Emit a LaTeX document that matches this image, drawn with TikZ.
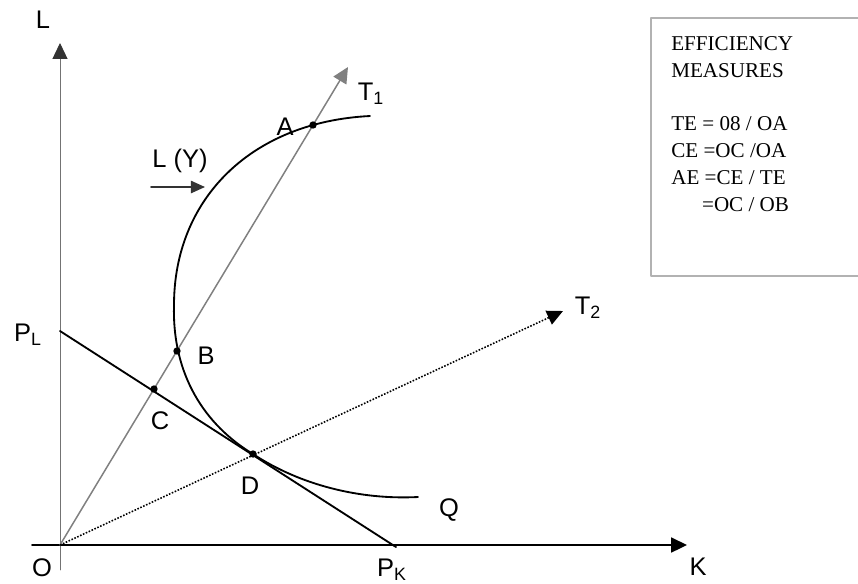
\documentclass[tikz,border=0pt]{standalone}
\usepackage{fontspec}
\setmainfont{Liberation Sans}
\newfontfamily\boxfont{Liberation Serif}
\usetikzlibrary{arrows.meta}

\begin{document}
\begin{tikzpicture}[
  x=0.02cm,
  y=-0.02cm,
  line cap=round,
  line join=round,
  lbl/.style={
    font=\fontsize{14.5}{17}\selectfont,
    inner sep=0pt
  },
  dot/.style={
    circle,
    fill=black,
    inner sep=0pt,
    minimum size=4.2pt
  },
  axisarrow/.style={
    -{Triangle[length=9pt,width=8.5pt]},
    line width=1pt,
    draw=black
  },
  rayarrow/.style={
    -{Triangle[length=9pt,width=8.5pt]},
    line width=0.85pt,
    draw=black!50
  },
  dotarrow/.style={
    -{Triangle[length=9pt,width=8.5pt]},
    line width=0.9pt,
    dash pattern=on 0.9pt off 0.9pt,
    line cap=butt,
    draw=black
  },
  curve/.style={
    line width=1.05pt,
    draw=black
  }
]

\useasboundingbox (0,0) rectangle (858,583);

% =========================================================
% Axes
% =========================================================

\coordinate (O) at (60,545);
\coordinate (lbottom) at (60,570);
\coordinate (ltip) at (60,43);
\coordinate (kstart) at (32,545);
\coordinate (ktip) at (687,545);

\draw[line width=0.5pt, draw=black!55,
  -{Triangle[length=9pt,width=8.5pt,color=black!80]}] (lbottom) -- (ltip);
\draw[axisarrow] (kstart) -- (ktip);

\node[lbl] (llab) at (43,20) {L};
\node[lbl] (olab) at (42,568) {O};
\node[lbl] (klab) at (698,567) {K};

% =========================================================
% Rays and price line
% =========================================================

\coordinate (t1tip) at (348,67);
\coordinate (t2tip) at (563,311);
\coordinate (pl) at (60,331);
\coordinate (pk) at (396,547);

\draw[rayarrow] (O) -- (t1tip);
\draw[dotarrow] (O) -- (t2tip);
\draw[line width=1.05pt] (pl) -- (pk);

\node[lbl] (t1lab) at (371,94) {T\textsubscript{1}};
\node[lbl] (t2lab) at (588,308) {T\textsubscript{2}};
\node[lbl] (pllab) at (28,335) {P\textsubscript{L}};
\node[lbl] (pklab) at (392,570) {P\textsubscript{K}};

% =========================================================
% Isoquant
% =========================================================

\coordinate (qstart) at (370,116);
\coordinate (qleft) at (174,305);
\coordinate (qend) at (418,497);

\node[dot] (A) at (313,125) {};
\node[dot] (B) at (177,351) {};
\node[dot] (C) at (154,389) {};
\node[dot] (D) at (253,454) {};

\draw[curve] (qstart) .. controls (250,122) and (174,200) .. (qleft)
  .. controls (172,375) and (205,425) .. (D.center)
  .. controls (300,485) and (360,500) .. (qend);

\node[lbl] (alab) at (285,127) {A};
\node[lbl] (blab) at (206,356) {B};
\node[lbl] (clab) at (160,421) {C};
\node[lbl] (dlab) at (250,486) {D};
\node[lbl] (qlab) at (449,510) {Q};

% L(Y) pointer
\node[lbl] (lylab) at (180,161) {L (Y)};
\coordinate (lyfrom) at (151,187);
\coordinate (lyto) at (205,187);
\draw[line width=0.9pt, draw=black!80,
  -{Triangle[length=8pt,width=7pt]}] (lyfrom) -- (lyto);

% =========================================================
% Efficiency measures box
% =========================================================

\draw[line width=0.8pt, draw=black!30]
  (858,18) -- (651,18) -- (651,276) -- (858,276);

\node[anchor=north west, inner sep=0pt, align=left,
  font=\boxfont\fontsize{12}{15.3}\selectfont] (measures) at (671,36)
{EFFICIENCY\\
MEASURES\\[15.3pt]
TE = 08 / OA\\
CE =OC /OA\\
AE =CE / TE\\
\hspace{17.5pt}=OC / OB};

\end{tikzpicture}
\end{document}
